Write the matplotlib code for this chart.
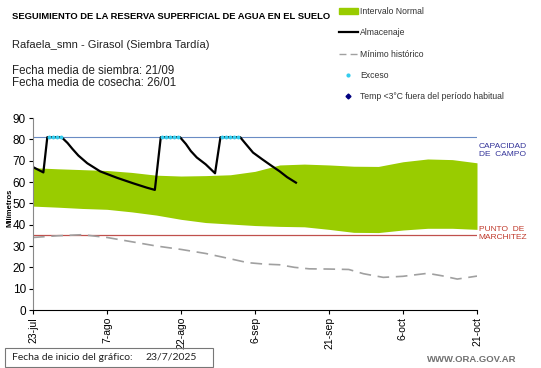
import matplotlib.pyplot as plt
from matplotlib.lines import Line2D
from matplotlib.patches import Patch, Rectangle

plt.rcParams['font.family'] = ['Liberation Sans', 'DejaVu Sans']

# days counted from 23-jul (chart start)
band_days = [0, 5, 10, 15, 20, 25, 30, 35, 40, 45, 50, 55, 60, 65, 70, 75, 80, 85, 90]
band_upper = [66.7, 66.2, 65.8, 65.4, 64.5, 63.2, 62.8, 63.0, 63.4, 65.0, 68.0, 68.4,
              68.0, 67.4, 67.3, 69.5, 70.8, 70.5, 69.0]
band_lower = [48.7, 48.2, 47.6, 47.2, 46.0, 44.5, 42.5, 41.0, 40.3, 39.6, 39.2, 39.0,
              37.8, 36.4, 36.3, 37.5, 38.3, 38.3, 37.8]

alm_days = [0, 2.1, 2.9, 4, 5, 5.8, 7, 8, 9.2, 11, 13.6, 17, 20.3, 23, 24.7,
            25.9, 27, 28, 29, 29.8, 31, 32, 33.2, 35, 36.9,
            38.0, 39, 40, 41, 42, 43, 44.6, 46.5, 48.1, 50, 51.5, 53.3]
alm_vals = [67, 64.5, 81, 81, 81, 81, 78.3, 75.5, 72.4, 68.8, 65.0, 62, 59.4, 57.4, 56.3,
            81, 81, 81, 81, 81, 77.8, 74.5, 71.5, 68.3, 64.1,
            81, 81, 81, 81, 81, 78.2, 73.8, 70.6, 68.0, 65.0, 62.3, 59.7]

exc_days = [3.2, 4.0, 4.8, 5.6, 26.2, 27.0, 27.8, 28.6, 29.4,
            38.4, 39.2, 40.0, 40.8, 41.6]
exc_vals = [81] * len(exc_days)

min_days = [0, 5, 10, 15, 20, 25, 30, 35, 40, 43.5, 47, 50, 53, 56, 60, 64, 67, 71,
            75, 80, 83, 86, 90]
min_vals = [34.0, 34.8, 35.3, 34.0, 32.0, 30.0, 28.4, 26.5, 24.0, 22.2, 21.5, 21.2, 20.0,
            19.3, 19.2, 19.0, 17.0, 15.3, 15.8, 17.2, 16.0, 14.5, 15.9]

capacidad = 81
marchitez = 35
tick_days = [0, 15, 30, 45, 60, 75, 90]
tick_labels = ["23-jul", "7-ago", "22-ago", "6-sep", "21-sep", "6-oct", "21-oct"]

fig = plt.figure(figsize=(5.41, 3.68), dpi=100)
ax = fig.add_axes([0.061, 0.1576, 0.8207, 0.5217])

ax.fill_between(band_days, band_lower, band_upper, color="#99CC00", linewidth=0)
ax.axhline(capacidad, color="#6A8CC4", linewidth=0.8)
ax.axhline(marchitez, color="#C0504D", linewidth=0.9)
ax.plot(min_days, min_vals, color="#A0A0A0", linewidth=1.2, dashes=(7, 4))
ax.plot(alm_days, alm_vals, color="black", linewidth=1.6)
ax.plot(exc_days, exc_vals, linestyle="none", marker="o", markersize=1.8,
        color="#33CCEE")

ax.set_xlim(0, 90)
ax.set_ylim(0, 90)
ax.set_yticks(range(0, 91, 10))
ax.set_xticks(tick_days)
ax.set_xticklabels(tick_labels, rotation=90, fontsize=7.5)
ax.tick_params(axis="y", labelsize=8.5, length=3, pad=2)
ax.tick_params(axis="x", length=3, pad=2)
for s in ["top", "right"]:
    ax.spines[s].set_visible(False)
ax.spines["left"].set_color("#888888")
ax.set_ylabel("Milímetros", fontsize=5.5, fontweight="bold", labelpad=3)
ax.yaxis.set_label_coords(-0.045, 0.53)

ax.text(1.004, 0.83, "CAPACIDAD\nDE  CAMPO", transform=ax.transAxes, fontsize=6,
        color="#333399", va="center", ha="left", linespacing=1.25)
ax.text(1.004, 0.4, "PUNTO  DE\nMARCHITEZ", transform=ax.transAxes, fontsize=6,
        color="#C0392B", va="center", ha="left", linespacing=1.25)

fig.text(0.022, 0.955, "SEGUIMIENTO DE LA RESERVA SUPERFICIAL DE AGUA EN EL SUELO",
         fontsize=6.75, fontweight="bold", va="center")
fig.text(0.022, 0.877, "Rafaela_smn - Girasol (Siembra Tardía)", fontsize=8.0,
         va="center", color="#222222")
fig.text(0.022, 0.807, "Fecha media de siembra: 21/09", fontsize=8.3, va="center",
         color="#222222")
fig.text(0.022, 0.775, "Fecha media de cosecha: 26/01", fontsize=8.3, va="center",
         color="#222222")

handles = [Patch(color="#99CC00"),
           Line2D([], [], color="black", linewidth=1.6),
           Line2D([], [], color="#A0A0A0", linewidth=1.0, dashes=(5, 3)),
           Line2D([], [], linestyle="none", marker="o", markersize=2, color="#33CCEE"),
           Line2D([], [], linestyle="none", marker="D", markersize=2.5, color="#000080")]
labels = ["Intervalo Normal", "Almacenaje", "Mínimo histórico", "Exceso",
          "Temp <3°C fuera del período habitual"]
leg = fig.legend(handles, labels, loc="upper left", bbox_to_anchor=(0.615, 0.997),
                 frameon=False, fontsize=6.2, handlelength=2.2, handletextpad=0.3,
                 labelspacing=1.42, borderaxespad=0.3)
for t in leg.get_texts():
    t.set_color("#333333")

fig.patches.append(Rectangle((0.009, 0.003), 0.385, 0.052, transform=fig.transFigure,
                             fill=False, edgecolor="#777777", linewidth=0.8))
fig.text(0.022, 0.029, "Fecha de inicio del gráfico:", fontsize=7.5, va="center",
         color="#222222", family="Lato")
fig.text(0.268, 0.029, "23/7/2025", fontsize=7.5, va="center", color="#222222",
         family="Lato")
fig.text(0.79, 0.022, "WWW.ORA.GOV.AR", fontsize=6.8, fontweight="bold",
         color="#707070", va="center")

fig.savefig("out.png", dpi=100)
